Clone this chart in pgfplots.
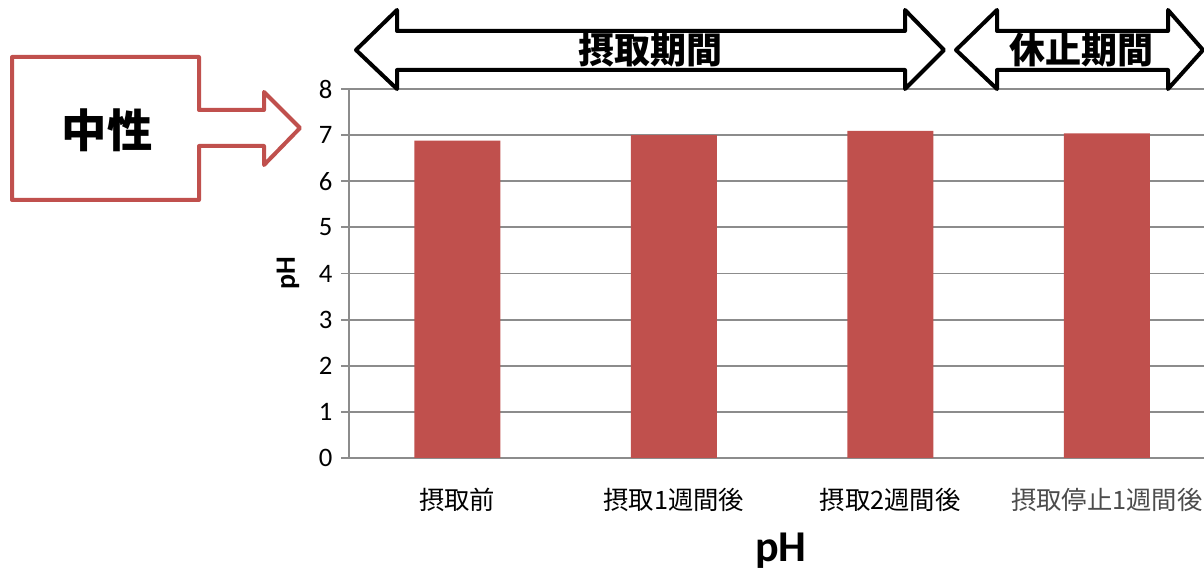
\documentclass[border=0pt]{standalone}
\usepackage{fontspec}
\setmainfont{Carlito}
\newfontfamily\cjk{Noto Sans CJK JP}
\usepackage{pgfplots}
\pgfplotsset{compat=1.18}
\definecolor{barred}{HTML}{C0504D}
\definecolor{gridgray}{HTML}{8C8C8C}
\begin{document}
\begin{tikzpicture}[x=0.75pt,y=0.75pt]
\useasboundingbox (0,0) rectangle (1204,574);
\begin{scope}
\clip (0,0) rectangle (1204,574);
\begin{axis}[
  at={(261.75pt,87pt)}, anchor=south west,
  scale only axis, width=649.5pt, height=276.75pt,
  xmin=-0.5, xmax=3.5, ymin=0, ymax=8,
  axis lines=left, axis line style={-, draw=gridgray, line width=1.4pt},
  ytick={0,1,2,3,4,5,6,7,8},
  ymajorgrids, grid style={draw=gridgray, line width=1.4pt},
  tick align=outside, major tick length=6pt,
  tick style={draw=gridgray, line width=1.4pt},
  /pgf/number format/assume math mode=true,
  yticklabel style={font=\fontsize{20}{22}\selectfont, xshift=-3pt},
  xtick={0,1,2,3},
  xticklabels={{\cjk 摂取前},{\cjk 摂取1週間後},{\cjk 摂取2週間後},{\color{black!70}\cjk 摂取停止1週間後}},
  xticklabel style={font=\fontsize{19}{21}\selectfont, yshift=-13pt},
  major x tick style={draw=none},
  extra x ticks={-0.5,0.5,1.5,2.5,3.5},
  extra x tick labels={},
  extra x tick style={grid=none, tick style={draw=gridgray, line width=1.4pt}, major tick length=6pt},
]
\addplot[ybar, fill=barred, draw=none, bar width=64.5pt] coordinates {(0,6.88) (1,7.00) (2,7.09) (3,7.04)};
\end{axis}
\end{scope}
\begin{scope}[shift={(0,574)}, yscale=-1]
  % y label
  \node[rotate=90, font=\fontsize{21}{23}\selectfont\bfseries] at (288,273) {pH};
  % bottom title
  \node[font=\fontsize{33}{36}\selectfont\bfseries] at (781,551) {pH};
  % callout
  \draw[barred, line width=3pt, line join=round, fill=white]
    (12,57) -- (199,57) -- (199,110) -- (264,110) -- (264,92) -- (300,128)
    -- (264,165) -- (264,146) -- (199,146) -- (199,200) -- (12,200) -- cycle;
  \node[font=\cjk\fontsize{34}{36}\selectfont\bfseries] at (107,130) {中性};
  % double arrows
  \draw[black, line width=3pt, line join=round, fill=white]
    (356,50) -- (397,10) -- (397,31) -- (905,31) -- (905,10) -- (944,50)
    -- (905,89) -- (905,70) -- (397,70) -- (397,89) -- cycle;
  \node[font=\cjk\fontsize{27}{30}\selectfont\bfseries] at (650,50) {摂取期間};
  \draw[black, line width=3pt, line join=round, fill=white]
    (956,50) -- (997,10) -- (997,31) -- (1168,31) -- (1168,10) -- (1203,50)
    -- (1168,89) -- (1168,70) -- (997,70) -- (997,89) -- cycle;
  \node[font=\cjk\fontsize{27}{30}\selectfont\bfseries] at (1081,50) {休止期間};
\end{scope}
\end{tikzpicture}
\end{document}
